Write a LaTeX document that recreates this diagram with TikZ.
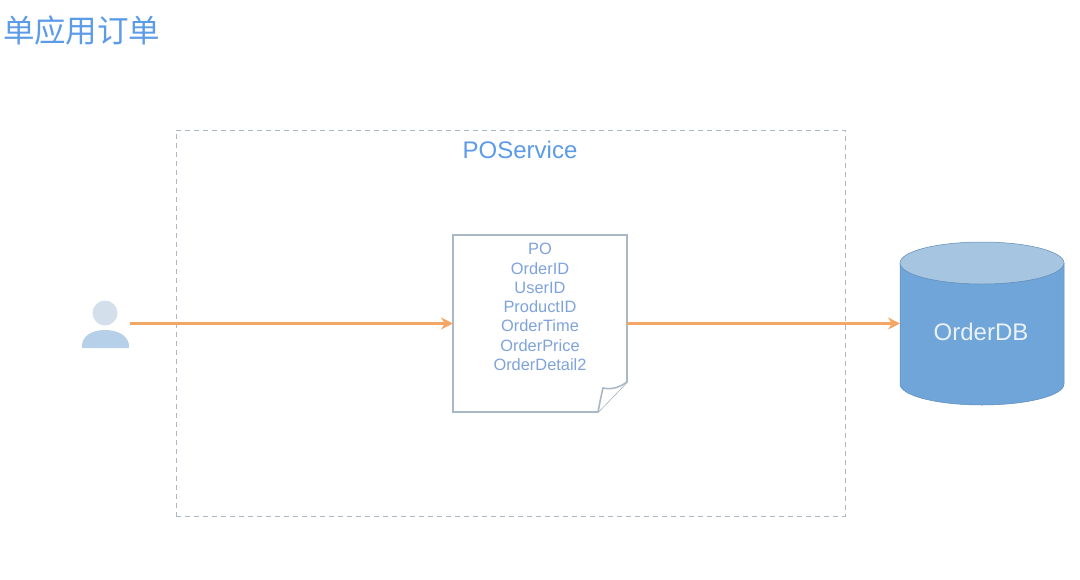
\documentclass[tikz,border=0pt]{standalone}
\usepackage{fontspec}
\setmainfont{Liberation Sans}
\newfontfamily\cjk{Noto Sans CJK SC}
\usetikzlibrary{arrows.meta}

\definecolor{titleblue}{HTML}{5B9BE8}
\definecolor{fieldblue}{HTML}{7FA3DC}
\definecolor{flow}{HTML}{F4A765}
\definecolor{boxgray}{HTML}{A9B8C4}
\definecolor{dbbody}{HTML}{6FA5D8}
\definecolor{dbtop}{HTML}{A6C5E0}
\definecolor{userhead}{HTML}{D3E0EC}
\definecolor{userbody}{HTML}{B5D0E8}

\tikzset{
  FlowStyle/.style={draw=flow, line width=3pt, -{Stealth[length=12pt,width=12pt]}},
  EmptyStyle/.style={inner sep=0pt, outer sep=0pt}
}

\begin{document}
\begin{tikzpicture}[x=1pt, y=-1pt]
        \useasboundingbox (0,0) rectangle (1080,579);

        \node[anchor=west, EmptyStyle, text=titleblue, font=\cjk\fontsize{31.5}{31.5}\selectfont] (title) at (3,31) {单应用订单};

        % service frame
        \node[EmptyStyle, draw=boxgray, dash pattern=on 5pt off 4pt, line width=1pt, minimum width=669pt, minimum height=386pt] (service) at (510.5,323) {};
        \node[EmptyStyle, text=titleblue, font=\fontsize{24}{24}\selectfont] (servicename) at (520,150) {POService};

        % user
        \node[EmptyStyle, minimum width=50pt, minimum height=50pt] (user) at (105,323.5) {};
        \fill[userhead] (105,313) circle (12.5);
        \fill[userbody] (82,348) .. controls (81,336) and (92,330) .. (105,330) .. controls (118,330) and (130,336) .. (129,348) -- cycle;

        % document
        \node[EmptyStyle, minimum width=174pt, minimum height=177pt] (doc) at (540,323.5) {};
        \draw[boxgray, line width=1.6pt, fill=white] (doc.north west) -- (doc.north east) -- (627,382) -- (598,412) -- (doc.south west) -- cycle;
        \draw[boxgray, line width=1.6pt, fill=white] (598,412) .. controls (600,402) and (601,396) .. (603,388) .. controls (612,390) and (620,387) .. (627,382);
        \node[EmptyStyle, align=center, text=fieldblue, font=\fontsize{16.4}{19.3}\selectfont] (fields) at (540,307) {PO\\OrderID\\UserID\\ProductID\\OrderTime\\OrderPrice\\OrderDetail2};

        % database
        \node[EmptyStyle, minimum width=164pt, minimum height=163pt] (db) at (982,323.5) {};
        \draw[dbbody!85!black, line width=0.5pt, fill=dbbody] (900,263) -- (900,384) arc[start angle=180, end angle=360, x radius=82, y radius=-21] -- (1064,263) -- cycle;
        \draw[dbbody!85!black, line width=0.5pt, fill=dbtop] (982,263) ellipse [x radius=82, y radius=21];
        \node[EmptyStyle, text=white!85!dbbody, font=\fontsize{24}{24}\selectfont] (dbname) at (981,332) {OrderDB};

        \draw[FlowStyle] (user.east) -- (doc.west);
        \draw[FlowStyle] (doc.east) -- (db.west);
\end{tikzpicture}
\end{document}
